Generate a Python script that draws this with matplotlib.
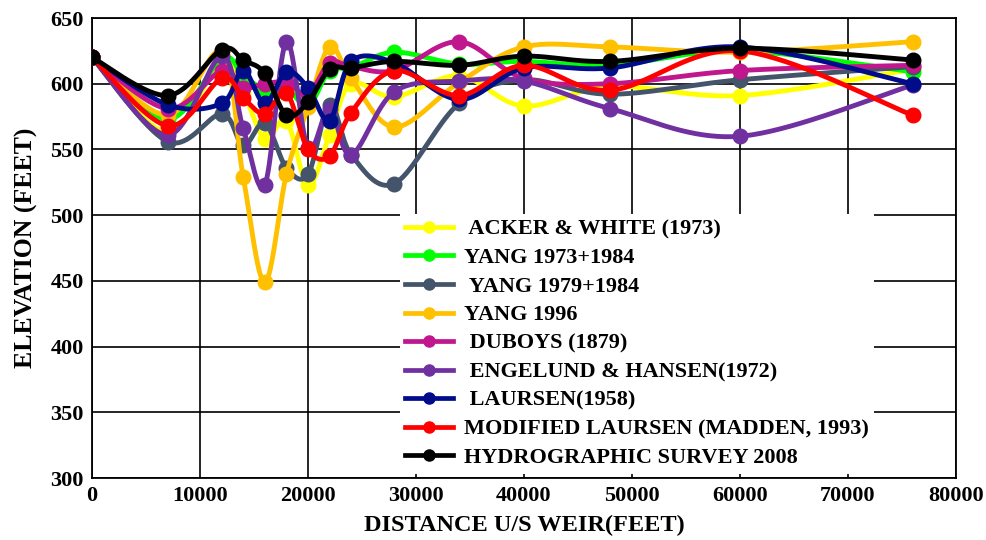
import numpy as np
import matplotlib
matplotlib.use("Agg")
import matplotlib.pyplot as plt
from matplotlib.lines import Line2D

distance = [0, 7000, 12000, 14000, 16000, 18000, 20000, 22000, 24000, 28000,
            34000, 40000, 48000, 60000, 76000]

acker_white = [620, 563, 618, 594, 558, 572, 523, 561, 600, 590, 606, 583, 598, 591, 611]
yang_1973 = [620, 573, 619, 606, 596, 597, 583, 610, 612, 624, 615, 617, 614, 625, 609]
yang_1979 = [620, 556, 577, 553, 570, 536, 531, 584, 546, 524, 585, 603, 592, 603, 613]
yang_1996 = [620, 576, 624, 529, 449, 531, 582, 628, 604, 567, 601, 628, 628, 624, 632]
duboys = [620, 581, 610, 597, 600, 601, 592, 616, 613, 610, 632, 604, 600, 610, 614]
engelund = [620, 561, 621, 566, 523, 632, 551, 581, 546, 594, 602, 602, 581, 560, 599]
laursen = [620, 584, 585, 610, 585, 609, 597, 572, 617, 616, 588, 612, 612, 628, 600]
mod_laursen = [620, 568, 604, 589, 577, 593, 550, 545, 578, 610, 591, 614, 595, 625, 576]
survey = [620, 591, 626, 618, 608, 576, 586, 611, 612, 617, 614, 621, 617, 627, 618]

series_names = [" ACKER & WHITE (1973)", "YANG 1973+1984", " YANG 1979+1984",
                "YANG 1996", " DUBOYS (1879)", " ENGELUND & HANSEN(1972)",
                " LAURSEN(1958)", "MODIFIED LAURSEN (MADDEN, 1993)",
                "HYDROGRAPHIC SURVEY 2008"]
series_values = [acker_white, yang_1973, yang_1979, yang_1996, duboys, engelund,
                 laursen, mod_laursen, survey]
series_colors = ["#FFFF00", "#00FF00", "#44546A", "#FFC000", "#C0168E", "#7030A0",
                 "#000C8A", "#FF0000", "#000000"]

FONT = "Liberation Serif"

fig = plt.figure(figsize=(9.87, 5.40), dpi=100)
ax = fig.add_axes([92/987, 1-478/540, (956-92)/987, (478-18)/540])
ax.set_xlim(0, 80000)
ax.set_ylim(300, 650)


def smooth(xs, ys, n=40):
    pts = ax.transData.transform(np.column_stack([xs, ys]).astype(float))
    P = np.vstack([pts[0], pts, pts[-1]])
    out = []
    for i in range(1, len(P) - 2):
        p0, p1, p2, p3 = P[i-1], P[i], P[i+1], P[i+2]
        c1 = p1 + (p2 - p0) / 6.0
        c2 = p2 - (p3 - p1) / 6.0
        t = np.linspace(0, 1, n)[:, None]
        seg = ((1-t)**3)*p1 + 3*((1-t)**2)*t*c1 + 3*(1-t)*(t**2)*c2 + (t**3)*p2
        out.append(seg if i == 1 else seg[1:])
    curve = np.vstack(out)
    d = ax.transData.inverted().transform(curve)
    return d[:, 0], d[:, 1]


for name, vals, col in zip(series_names, series_values, series_colors):
    sx, sy = smooth(distance, vals)
    ax.plot(sx, sy, color=col, lw=3.5, solid_capstyle="round", zorder=3)
    ax.plot(distance, vals, ls="none", marker="o", ms=10.5, color=col, zorder=3)

ax.set_xticks(np.arange(0, 80001, 10000))
ax.set_yticks(np.arange(300, 651, 50))
ax.grid(True, color="black", lw=1.2)
ax.set_axisbelow(True)
for s in ax.spines.values():
    s.set_linewidth(1.3)
ax.tick_params(length=0, pad=6)
for lab in ax.get_xticklabels() + ax.get_yticklabels():
    lab.set_fontfamily(FONT)
    lab.set_fontweight("bold")
    lab.set_fontsize(16)

ax.set_xlabel("DISTANCE U/S WEIR(FEET)", fontfamily=FONT, fontweight="bold",
              fontsize=17.5, labelpad=6)
ax.set_ylabel("ELEVATION (FEET)", fontfamily=FONT, fontweight="bold",
              fontsize=18.5, labelpad=9)

handles = [Line2D([0], [0], color=c, lw=3.4, marker="o", ms=8) for c in series_colors]
leg = ax.legend(handles, series_names, loc="upper left",
                bbox_to_anchor=(0.356, 0.575), frameon=True, fancybox=False,
                framealpha=1, facecolor="white", edgecolor="none",
                prop={"family": FONT, "weight": "bold", "size": 16},
                handlelength=2.15, handletextpad=0.5, labelspacing=0.36,
                borderpad=0.25, borderaxespad=0)
leg.set_zorder(5)

fig.savefig("out.png", dpi=100)
